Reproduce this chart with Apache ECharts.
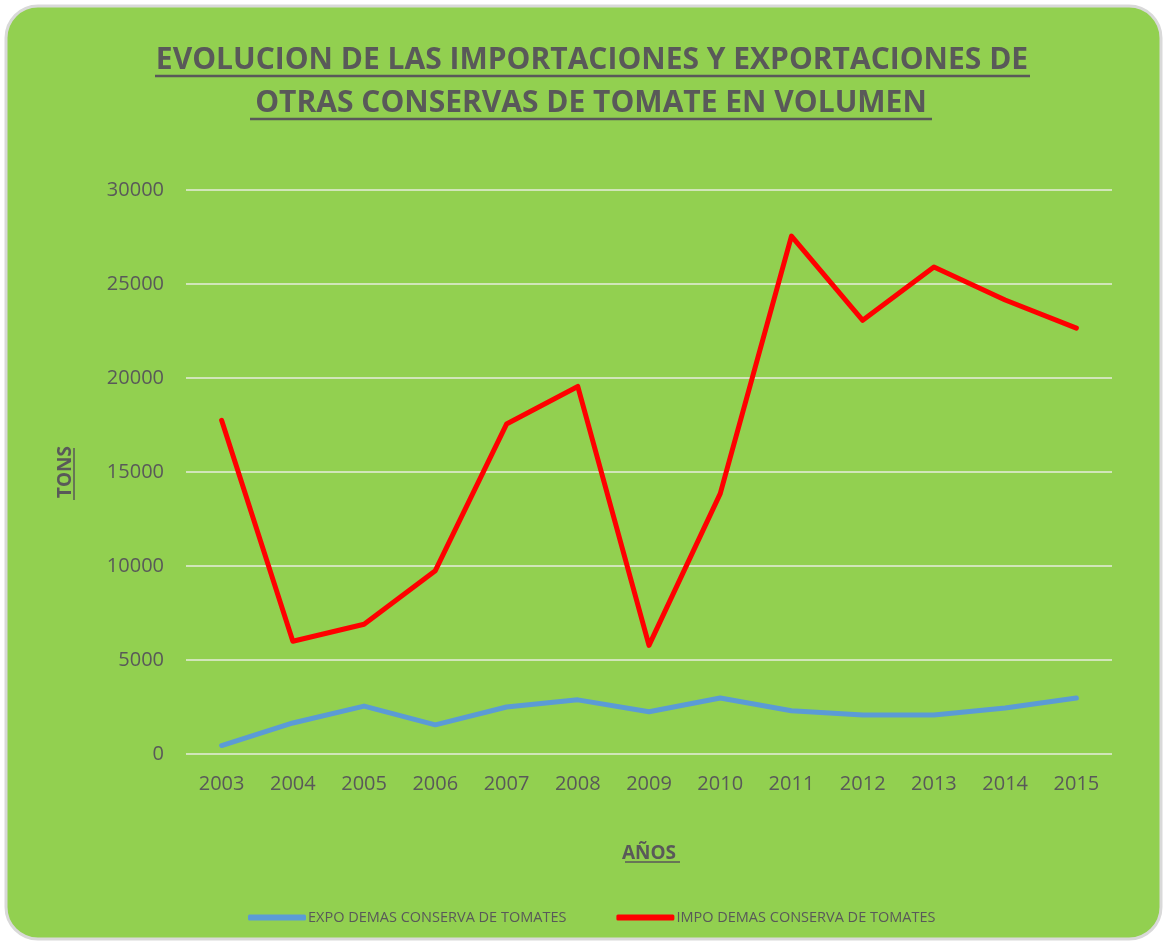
<!DOCTYPE html>
<html>
<head>
<meta charset="utf-8">
<script src="https://cdn.jsdelivr.net/npm/echarts@6/dist/echarts.min.js"></script>
<style>
  html, body { margin: 0; padding: 0; background: #fff; }
  #chart { width: 1167px; height: 945px; }
</style>
</head>
<body>
<div id="chart"></div>
<script>
// datos
var years = ['2003','2004','2005','2006','2007','2008','2009','2010','2011','2012','2013','2014','2015'];
var expo = [450, 1650, 2550, 1550, 2500, 2880, 2250, 2980, 2300, 2080, 2080, 2450, 2980];
var impo = [17750, 6000, 6900, 9750, 17550, 19550, 5780, 13850, 27550, 23070, 25900, 24150, 22650];
var yTicks = [0, 5000, 10000, 15000, 20000, 25000, 30000];
var seriesNames = ['EXPO DEMAS CONSERVA DE TOMATES', 'IMPO DEMAS CONSERVA DE TOMATES'];
var titleLines = ['EVOLUCION DE LAS IMPORTACIONES Y EXPORTACIONES DE', 'OTRAS CONSERVAS DE TOMATE EN VOLUMEN'];

var font = "'Open Sans', sans-serif";
var grey = '#595959';

var chart = echarts.init(document.getElementById('chart'));
var option = {
  backgroundColor: 'transparent',
  graphic: [
    { type: 'rect', z: -10, shape: { x: 6, y: 6, width: 1155, height: 933, r: 32 },
      style: { fill: '#92D050', stroke: '#d9d9d9', lineWidth: 3 } },
    // titulo en dos lineas, subrayado
    { type: 'text', x: 592, y: 60, style: { text: titleLines[0], fill: grey,
      font: 'bold 30px ' + font, textAlign: 'center', textVerticalAlign: 'middle' } },
    { type: 'text', x: 591, y: 103, style: { text: titleLines[1], fill: grey,
      font: 'bold 30px ' + font, textAlign: 'center', textVerticalAlign: 'middle' } },
    { type: 'line', shape: { x1: 155, y1: 76, x2: 1030, y2: 76 }, style: { stroke: grey, lineWidth: 2.5 } },
    { type: 'line', shape: { x1: 250, y1: 119, x2: 932, y2: 119 }, style: { stroke: grey, lineWidth: 2.5 } },
    { type: 'line', shape: { x1: 625, y1: 862, x2: 680, y2: 862 }, style: { stroke: grey, lineWidth: 1.5 } },
    { type: 'line', shape: { x1: 74, y1: 448, x2: 74, y2: 500 }, style: { stroke: grey, lineWidth: 1.5 } }
  ],
  legend: {
    left: 243,
    top: 905,
    itemWidth: 58,
    itemHeight: 6,
    itemGap: 50,
    icon: 'roundRect',
    textStyle: { fontFamily: font, fontSize: 14.5, color: grey, padding: [0, 0, 0, -3] },
    data: seriesNames
  },
  grid: { left: 186, right: 55, top: 190, bottom: 191 },
  xAxis: {
    type: 'category',
    data: years,
    name: 'AÑOS',
    nameLocation: 'middle',
    nameGap: 90,
    nameTextStyle: { fontFamily: font, fontWeight: 'bold', fontSize: 19, color: grey },
    axisLine: { show: false },
    axisTick: { show: false },
    axisLabel: { fontFamily: font, fontSize: 20, color: grey, margin: 20 }
  },
  yAxis: {
    type: 'value',
    min: 0,
    max: 30000,
    interval: 5000,
    name: 'TONS',
    nameLocation: 'middle',
    nameGap: 111,
    nameRotate: 90,
    nameTextStyle: { fontFamily: font, fontWeight: 'bold', fontSize: 19, color: grey },
    axisLine: { show: false },
    axisTick: { show: false },
    splitLine: { lineStyle: { color: '#e6ecdd', width: 1.5 } },
    axisLabel: {
      fontFamily: font, fontSize: 20, color: grey, margin: 22,
      formatter: function (v) { return yTicks.indexOf(v) >= 0 ? String(v) : ''; }
    }
  },
  series: [
    { name: seriesNames[0], type: 'line', data: expo, symbol: 'none',
      itemStyle: { color: '#5B9BD5' }, lineStyle: { color: '#5B9BD5', width: 5, cap: 'round', join: 'round' } },
    { name: seriesNames[1], type: 'line', data: impo, symbol: 'none',
      itemStyle: { color: '#FF0000' }, lineStyle: { color: '#FF0000', width: 5, cap: 'round', join: 'round' } }
  ]
};
chart.setOption(option);
</script>
</body>
</html>
